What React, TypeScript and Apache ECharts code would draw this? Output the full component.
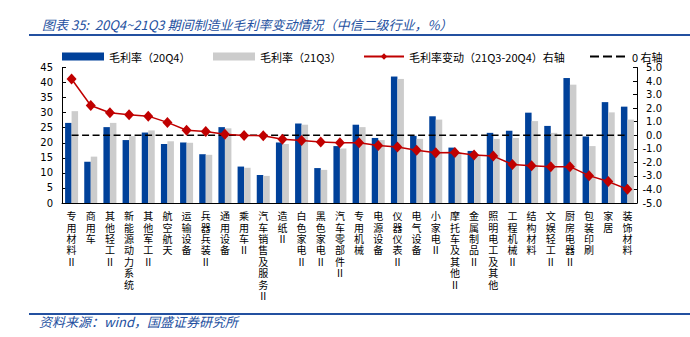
import React, { useEffect, useRef } from "react";
import * as echarts from "echarts";

const categories = [
  "专用材料Ⅱ", "商用车", "其他轻工Ⅱ", "新能源动力系统", "其他军工Ⅱ", "航空航天",
  "运输设备", "兵器兵装Ⅱ", "通用设备", "乘用车Ⅱ", "汽车销售及服务Ⅱ", "造纸Ⅱ",
  "白色家电Ⅱ", "黑色家电Ⅱ", "汽车零部件Ⅱ", "专用机械", "电源设备", "仪器仪表Ⅱ",
  "电气设备", "小家电Ⅱ", "摩托车及其他Ⅱ", "金属制品Ⅱ", "照明电工及其他", "工程机械Ⅱ",
  "结构材料", "文娱轻工Ⅱ", "厨房电器Ⅱ", "包装印刷", "家居", "装饰材料",
];

const margin20Q4 = [
  26.6, 13.7, 25.2, 20.9, 23.4, 19.6, 20.1, 16.2, 25.2, 12.1,
  9.3, 20.1, 26.4, 11.6, 18.9, 26.0, 21.6, 42.0, 22.3, 28.8,
  18.4, 17.3, 23.3, 24.0, 30.0, 25.6, 41.5, 22.1, 33.5, 32.0,
];

const margin21Q3 = [
  30.5, 15.4, 26.6, 22.2, 24.1, 20.5, 20.0, 16.0, 24.8, 11.7,
  9.0, 19.6, 26.0, 11.0, 18.1, 25.2, 20.9, 41.2, 21.3, 27.7,
  16.9, 15.9, 21.3, 21.6, 27.2, 23.3, 39.3, 18.9, 30.1, 27.7,
];

const marginChange = [
  4.15, 2.2, 1.66, 1.51, 1.41, 0.95, 0.37, 0.27, 0.07, -0.02,
  -0.03, -0.29, -0.39, -0.49, -0.55, -0.55, -0.76, -0.86, -1.1, -1.29,
  -1.27, -1.46, -1.54, -2.15, -2.25, -2.32, -2.32, -2.98, -3.42, -3.98,
];

const zeroLine = [
  0, 0, 0, 0, 0, 0, 0, 0, 0, 0,
  0, 0, 0, 0, 0, 0, 0, 0, 0, 0,
  0, 0, 0, 0, 0, 0, 0, 0, 0, 0,
];

const leftTicks = { min: 0, max: 45, interval: 5 };
const rightTicks = { min: -5, max: 5, interval: 1 };

const seriesNames = [
  "毛利率（20Q4）",
  "毛利率（21Q3）",
  "毛利率变动（21Q3-20Q4）右轴",
  "0 右轴",
];

const titleText = "图表 35:  20Q4~21Q3 期间制造业毛利率变动情况（中信二级行业，%）";
const sourceText = "资料来源：wind，国盛证券研究所";

const BLUE = "#00419A";
const GRAY = "#CCCCCC";
const RED = "#C00000";
const TITLE_BLUE = "#2350A0";
const CJK = "'Noto Sans CJK SC', sans-serif";
const NUM = "'DejaVu Sans', sans-serif";
const DASH_ICON = "path://M0,0h9v2h-9z M13,0h9v2h-9z M26,0h9v2h-9z";

export default function App() {
  const ref = useRef<HTMLDivElement>(null);

  useEffect(() => {
    const chart = echarts.init(ref.current!, null, { renderer: "svg" });
    const legendText = { fontSize: 11, fontFamily: CJK, color: "#000" };
    chart.setOption({
      animation: false,
      backgroundColor: "#fff",
      title: {
        text: titleText,
        left: 37,
        top: 13,
        textStyle: {
          fontSize: 13,
          fontStyle: "italic",
          fontWeight: "normal",
          color: TITLE_BLUE,
          fontFamily: CJK,
        },
      },
      graphic: [
        {
          type: "line",
          shape: { x1: 29, y1: 35, x2: 690, y2: 35 },
          style: { stroke: TITLE_BLUE, lineWidth: 2 },
        },
        {
          type: "line",
          shape: { x1: 29, y1: 314, x2: 690, y2: 314 },
          style: { stroke: TITLE_BLUE, lineWidth: 2 },
        },
        {
          type: "text",
          x: 39,
          y: 315,
          style: {
            text: sourceText,
            fill: TITLE_BLUE,
            font: `italic 13px ${CJK}`,
          },
        },
      ],
      legend: [
        {
          data: [seriesNames[0]],
          left: 57,
          top: 46,
          itemWidth: 42,
          itemHeight: 8,
          icon: "rect",
          textStyle: legendText,
        },
        {
          data: [seriesNames[1]],
          left: 208,
          top: 46,
          itemWidth: 42,
          itemHeight: 8,
          icon: "rect",
          textStyle: legendText,
        },
        {
          data: [seriesNames[2]],
          left: 358,
          top: 46,
          itemWidth: 40,
          itemHeight: 8,
          textStyle: legendText,
        },
        {
          data: [{ name: seriesNames[3], icon: DASH_ICON }],
          left: 585,
          top: 46,
          itemWidth: 35,
          itemHeight: 2,
          itemStyle: { color: "#000", borderWidth: 0 },
          textStyle: { ...legendText, padding: [0, 0, 0, 2] },
        },
      ],
      grid: { left: 62, right: 53, top: 67.5, bottom: 134 },
      xAxis: {
        type: "category",
        data: categories,
        boundaryGap: true,
        axisLine: { lineStyle: { color: "#000", width: 1 } },
        axisTick: { inside: true, length: 3, lineStyle: { color: "#000" } },
        axisLabel: {
          interval: 0,
          margin: 7,
          fontSize: 10,
          lineHeight: 11.4,
          fontFamily: CJK,
          color: "#000",
          formatter: (v: string) => v.split("").join("\n"),
        },
      },
      yAxis: [
        {
          type: "value",
          ...leftTicks,
          position: "left",
          splitLine: { show: false },
          axisLine: { show: true, lineStyle: { color: "#000", width: 1 } },
          axisTick: { show: true, inside: true, length: 4, lineStyle: { color: "#000" } },
          axisLabel: { fontSize: 10, fontFamily: NUM, color: "#000", margin: 9 },
        },
        {
          type: "value",
          ...rightTicks,
          position: "right",
          splitLine: { show: false },
          axisLine: { show: true, lineStyle: { color: "#000", width: 1 } },
          axisTick: { show: true, inside: true, length: 4, lineStyle: { color: "#000" } },
          axisLabel: {
            fontSize: 10,
            fontFamily: NUM,
            color: "#000",
            margin: 25,
            align: "right",
            formatter: (v: number) => v.toFixed(1),
          },
        },
      ],
      series: [
        {
          name: seriesNames[0],
          type: "bar",
          yAxisIndex: 0,
          data: margin20Q4,
          barWidth: 6.5,
          barGap: "0%",
          itemStyle: { color: BLUE },
        },
        {
          name: seriesNames[1],
          type: "bar",
          yAxisIndex: 0,
          data: margin21Q3,
          barWidth: 6.5,
          barGap: "0%",
          itemStyle: { color: GRAY },
        },
        {
          name: seriesNames[3],
          type: "line",
          yAxisIndex: 1,
          data: zeroLine,
          symbol: "none",
          z: 3,
          itemStyle: { color: "#000" },
          lineStyle: { color: "#000", width: 1.5, type: [7, 3.5] },
        },
        {
          name: seriesNames[2],
          type: "line",
          yAxisIndex: 1,
          data: marginChange,
          symbol: "diamond",
          symbolSize: [10, 11],
          z: 4,
          itemStyle: { color: RED },
          lineStyle: { color: RED, width: 1.5 },
        },
      ],
    });
    return () => chart.dispose();
  }, []);

  return (
    <div
      ref={ref}
      style={{ position: "absolute", left: 0, top: 0, width: 690, height: 337 }}
    />
  );
}
